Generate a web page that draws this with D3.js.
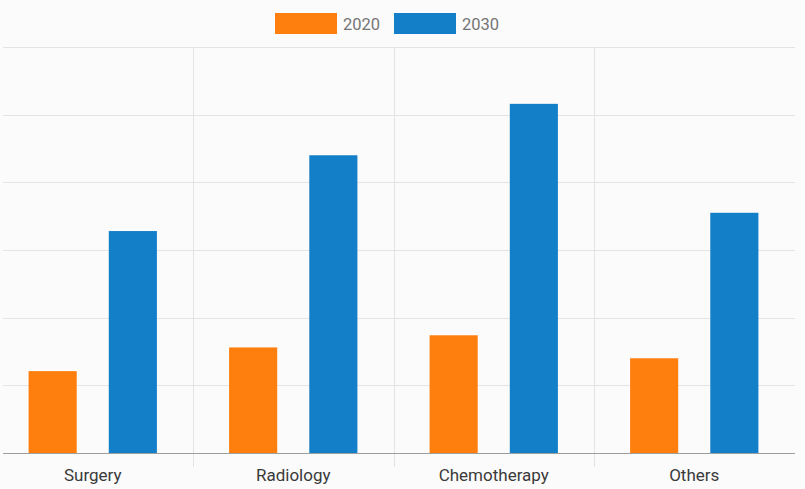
<!DOCTYPE html>
<html lang="en">
<head>
  <meta charset="utf-8">
  <title>Treatment demand 2020 vs 2030</title>
  <style>
    html, body { margin: 0; padding: 0; background: #fbfbfb; }
    #chart { width: 805px; height: 489px; }
  </style>
</head>
<body>
  <div id="chart"></div>

<script src="https://cdn.jsdelivr.net/npm/d3@7"></script>
<script>
    ////////////////////////////////////////////////// DATA
    var categories = ["Surgery", "Radiology", "Chemotherapy", "Others"];
    var seriesNames = ["2020", "2030"];
    var values2020 = [1.21, 1.56, 1.74, 1.40];
    var values2030 = [3.28, 4.40, 5.16, 3.55];
    var gridTicks = [0, 1, 2, 3, 4, 5, 6];

    var colors = { "2020": "#ff7f0e", "2030": "#127fc8" };

    ////////////////////////////////////////////////// SETUP
    var width = 805, height = 489;
    var plot = { left: 3, right: 795, top: 47, bottom: 453 };

    var svg = d3.select("#chart").append("svg")
        .attr("width", width)
        .attr("height", height)
        .attr("font-family", "Roboto, Arial, sans-serif");

    svg.append("rect")
        .attr("width", width)
        .attr("height", height)
        .attr("fill", "#fbfbfb");

    var table = categories.map(function(c, i) {
        return { cat: c, values: [
            { key: "2020", value: values2020[i] },
            { key: "2030", value: values2030[i] }
        ]};
    });

    // outer band scale (first band is partly clipped on the left)
    var x0 = d3.scaleBand()
        .domain(categories)
        .range([-7.5, 794.5])
        .padding(0);

    var x1 = d3.scaleBand()
        .domain(seriesNames)
        .range([0, x0.bandwidth()])
        .paddingInner(0.4)
        .paddingOuter(0.45);

    var y = d3.scaleLinear()
        .domain([0, 6])
        .range([plot.bottom, plot.top]);

    // horizontal grid
    svg.append("g")
        .selectAll("line")
        .data(gridTicks.slice(1))
        .join("line")
        .attr("x1", plot.left)
        .attr("x2", plot.right)
        .attr("y1", d => Math.round(y(d)) + 0.5)
        .attr("y2", d => Math.round(y(d)) + 0.5)
        .attr("stroke", "#e4e4e4")
        .attr("stroke-width", 1);

    // vertical separators between categories
    svg.append("g")
        .selectAll("line")
        .data(categories.slice(1))
        .join("line")
        .attr("x1", d => Math.round(x0(d)) + 0.5)
        .attr("x2", d => Math.round(x0(d)) + 0.5)
        .attr("y1", plot.top)
        .attr("y2", plot.bottom + 14)
        .attr("stroke", "#e4e4e4")
        .attr("stroke-width", 1);

    // bars
    var group = svg.append("g")
        .selectAll("g")
        .data(table)
        .join("g")
        .attr("transform", d => `translate(${x0(d.cat)},0)`);

    group.selectAll("rect")
        .data(d => d.values)
        .join("rect")
        .attr("x", d => x1(d.key))
        .attr("width", x1.bandwidth())
        .attr("y", d => y(d.value))
        .attr("height", d => y(0) - y(d.value))
        .attr("fill", d => colors[d.key]);

    // x axis line
    svg.append("line")
        .attr("x1", plot.left)
        .attr("x2", plot.right)
        .attr("y1", plot.bottom + 0.5)
        .attr("y2", plot.bottom + 0.5)
        .attr("stroke", "#9e9e9e")
        .attr("stroke-width", 1);

    // category labels
    svg.append("g")
        .selectAll("text")
        .data(categories)
        .join("text")
        .attr("x", d => x0(d) + x0.bandwidth() / 2)
        .attr("y", 481)
        .attr("text-anchor", "middle")
        .attr("font-size", 17)
        .attr("fill", "#3a3a3a")
        .text(d => d);

    // legend
    var legendX = [275, 394];
    var legend = svg.append("g")
        .selectAll("g")
        .data(seriesNames)
        .join("g")
        .attr("transform", (d, i) => `translate(${legendX[i]},13)`);

    legend.append("rect")
        .attr("width", 62)
        .attr("height", 21)
        .attr("fill", d => colors[d]);

    legend.append("text")
        .attr("x", 68)
        .attr("y", 16.5)
        .attr("font-size", 16.5)
        .attr("fill", "#757575")
        .text(d => d);
</script>
</body>
</html>
